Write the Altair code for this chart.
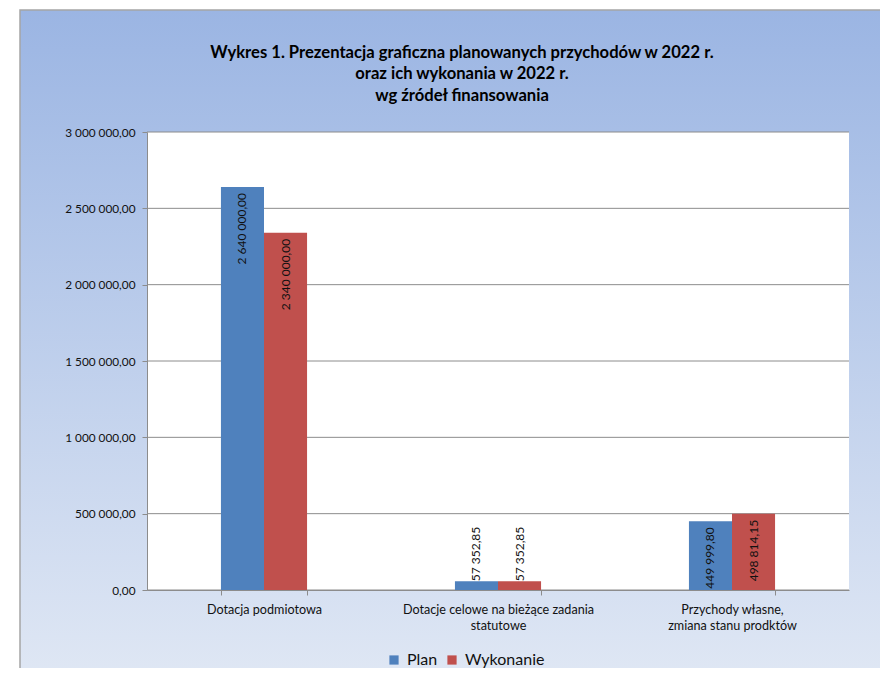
import altair as alt
import pandas as pd

# ---- data ----
categories = [
    "Dotacja podmiotowa",
    "Dotacje celowe na bieżące zadania\nstatutowe",
    "Przychody własne,\nzmiana stanu prodktów",
]
series = ["Plan", "Wykonanie"]
plan = [2640000.00, 57352.85, 449999.80]
wykonanie = [2340000.00, 57352.85, 498814.15]
y_ticks = [0, 500000, 1000000, 1500000, 2000000, 2500000, 3000000]
colors = ["#4f81bd", "#c0504d"]
title_lines = [
    "Wykres 1. Prezentacja graficzna planowanych przychodów w 2022 r.",
    "oraz ich wykonania w 2022 r.",
    "wg źródeł finansowania",
]

rows = []
for c, p, w in zip(categories, plan, wykonanie):
    rows.append({"category": c, "series": series[0], "value": p})
    rows.append({"category": c, "series": series[1], "value": w})
df = pd.DataFrame(rows)
grid_df = pd.DataFrame({"value": y_ticks})

W, H = 702, 458
FONT = "Lato"
GRAY = "#8c8c8c"
TXT = "#111111"

# ---- background decorations ----
bg = alt.Chart(alt.Data(values=[{"k": 1}])).mark_rect(
    fill=alt.Gradient(
        gradient="linear",
        stops=[
            alt.GradientStop(color="#9bb5e3", offset=0),
            alt.GradientStop(color="#dfe7f4", offset=1),
        ],
        x1=0, x2=0, y1=0, y2=1,
    ),
    stroke="#a5a5a5",
    strokeWidth=1.5,
).encode(
    x=alt.value(-127), x2=alt.value(W + 80),
    y=alt.value(-122), y2=alt.value(H + 86),
)

plot_bg = alt.Chart(alt.Data(values=[{"k": 1}])).mark_rect(fill="white").encode(
    x=alt.value(0), x2=alt.value("width"), y=alt.value(0), y2=alt.value("height")
)

y_scale = alt.Scale(domain=[0, 3000000], nice=False)

grid = alt.Chart(grid_df).mark_rule(color=GRAY, strokeWidth=1).encode(
    y=alt.Y("value:Q", scale=y_scale)
)

x_enc = alt.X(
    "category:N",
    sort=categories,
    scale=alt.Scale(domain=categories, paddingInner=0.632, paddingOuter=0.316),
    axis=alt.Axis(
        title=None,
        labelAngle=0,
        labelExpr="split(datum.label, '\\n')",
        tickBand="extent",
        tickSize=5,
        tickColor=GRAY,
        domainColor=GRAY,
        labelPadding=8,
        labelLineHeight=16,
        labelFont=FONT,
        labelFontSize=12.6,
        labelColor=TXT,
        labelLimit=400,
        zindex=1,
    ),
)
xo_enc = alt.XOffset("series:N", sort=series,
                     scale=alt.Scale(domain=series, paddingInner=0, paddingOuter=0))
y_enc = alt.Y(
    "value:Q",
    scale=y_scale,
    axis=alt.Axis(
        title=None,
        values=y_ticks,
        format=",.2f",
        grid=False,
        tickSize=5,
        tickColor=GRAY,
        domainColor=GRAY,
        labelPadding=7,
        labelFont=FONT,
        labelFontSize=11.8,
        labelColor=TXT,
        zindex=1,
    ),
)

base = alt.Chart(df)

bars = base.mark_bar().encode(
    x=x_enc,
    xOffset=xo_enc,
    y=y_enc,
    color=alt.Color(
        "series:N",
        scale=alt.Scale(domain=series, range=colors),
        legend=alt.Legend(
            title=None,
            orient="none",
            legendX=239,
            legendY=520,
            direction="horizontal",
            symbolType="square",
            symbolSize=85,
            symbolStrokeWidth=0,
            labelFont=FONT,
            labelFontSize=16,
            labelColor=TXT,
            labelOffset=5,
            columnPadding=6,
        ),
    ),
)

inside = base.transform_filter("datum.value >= 200000").mark_text(
    angle=270, align="right", baseline="middle", dx=-6,
    font=FONT, fontSize=12, color=TXT,
).encode(x=x_enc, xOffset=xo_enc, y=y_enc, text=alt.Text("value:Q", format=",.2f"))

outside = base.transform_filter("datum.value < 200000").mark_text(
    angle=270, align="left", baseline="middle", dx=0,
    font=FONT, fontSize=12, color=TXT,
).encode(x=x_enc, xOffset=xo_enc, y=y_enc, text=alt.Text("value:Q", format=",.2f"))

chart = alt.layer(bg, plot_bg, grid, bars, inside, outside).properties(
    width=W,
    height=H,
    autosize="none",
    padding={"left": 139, "top": 124, "right": 31, "bottom": 78},
    title=alt.TitleParams(
        text=title_lines,
        font=FONT,
        fontSize=16.6,
        fontWeight="bold",
        color="#000000",
        lineHeight=21.5,
        anchor="middle",
        baseline="bottom",
        dx=-36,
        offset=-111,
    ),
).configure(
    locale={"number": {"decimal": ",", "thousands": " ", "grouping": [3], "currency": ["", ""]}}
).configure_view(strokeWidth=0)

chart.save("out.html", embed_options={"renderer": "svg", "actions": False})
